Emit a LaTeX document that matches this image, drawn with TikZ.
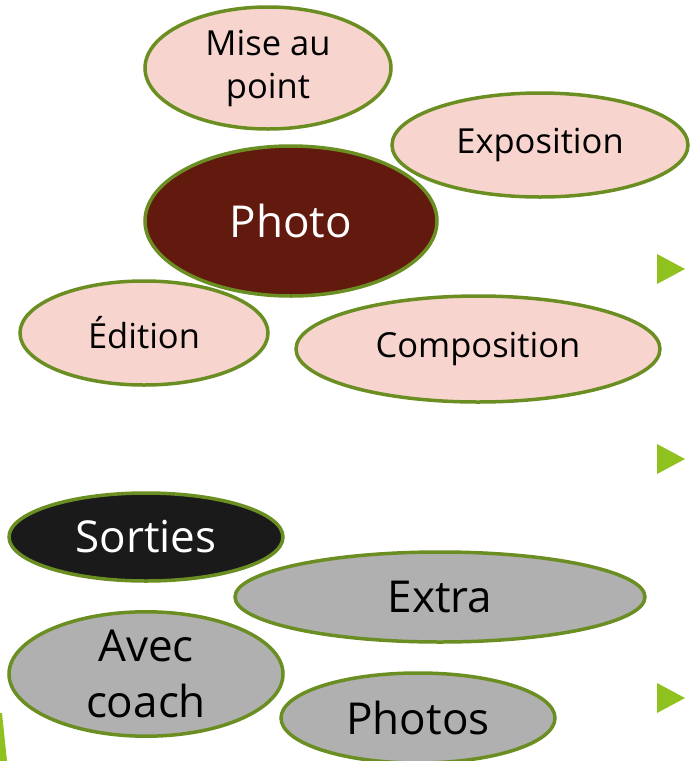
\documentclass[tikz,border=0pt]{standalone}
\usepackage{fontspec}
\setmainfont{Open Sans}
\usetikzlibrary{shapes.geometric}

\definecolor{bordvert}{RGB}{107,142,35}
\definecolor{puce}{RGB}{144,194,31}
\definecolor{rose}{RGB}{248,212,206}
\definecolor{brun}{RGB}{98,25,14}
\definecolor{noir}{RGB}{26,26,26}
\definecolor{gris}{RGB}{176,176,176}

\tikzset{
	bulle/.style={ellipse, draw=bordvert, line width=3.5pt, inner sep=0pt, align=center},
	petite/.style={bulle, fill=rose, font=\fontsize{34.5}{43}\selectfont},
	grande/.style={bulle, font=\fontsize{44}{56}\selectfont},
	triangle/.style={fill=puce}
}

\begin{document}
\begin{tikzpicture}[x=1pt,y=-1pt]
	\useasboundingbox (0,0) rectangle (689,761);
	\coordinate (M) at (268,68);
	\coordinate (E) at (540,145);
	\coordinate (P) at (291,221);
	\coordinate (D) at (144,333);
	\coordinate (C) at (478,349);
	\coordinate (S) at (146,537);
	\coordinate (X) at (440,597);
	\coordinate (A) at (146,674);
	\coordinate (F) at (418,718);

	\node[petite, minimum width=246pt, minimum height=122pt] (mise) at (M) {Mise au\\point};
	\node[petite, minimum width=296pt, minimum height=104pt] (expo) at (E) {Exposition};
	\node[grande, fill=brun, text=white, minimum width=292pt, minimum height=150pt] (photo) at (P) {Photo};
	\node[petite, minimum width=248pt, minimum height=104pt] (edition) at (D) {Édition};
	\node[petite, minimum width=364pt, minimum height=106pt] (compo) at (C) {Composition};

	\node[grande, fill=noir, text=white, minimum width=274pt, minimum height=88pt] (sorties) at (S) {Sorties};
	\node[grande, fill=gris, minimum width=410pt, minimum height=90pt] (extra) at (X) {Extra};
	\node[grande, fill=gris, minimum width=274pt, minimum height=124pt] (coach) at (A) {Avec\\coach};
	\node[grande, fill=gris, minimum width=274pt, minimum height=90pt] (photos) at (F) {Photos};

	\foreach \y in {269,459,698}
		\fill[triangle] (657,\y-15) -- (685,\y) -- (657,\y+15) -- cycle;
	\fill[triangle] (0,713) -- (2,713) -- (7,761) -- (0,761) -- cycle;
\end{tikzpicture}
\end{document}
